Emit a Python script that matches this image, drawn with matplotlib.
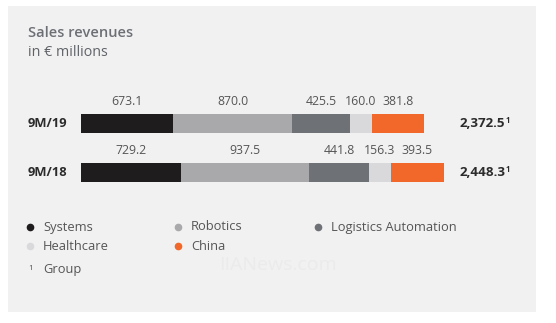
import matplotlib
matplotlib.use("Agg")
import matplotlib.pyplot as plt
from matplotlib.patches import Rectangle
from matplotlib.lines import Line2D
import matplotlib.transforms as mtransforms

plt.rcParams['font.family'] = ['Open Sans', 'DejaVu Sans']

# data
periods = ['9M/19', '9M/18']
segments = ['Systems', 'Robotics', 'Logistics Automation', 'Healthcare', 'China']
values_19 = [673.1, 870.0, 425.5, 160.0, 381.8]
values_18 = [729.2, 937.5, 441.8, 156.3, 393.5]
totals = ['2,372.5', '2,448.3']
colors = ['#1e1c1d', '#a9a9ab', '#6e7176', '#d9d9dc', '#f2672a']

W, H = 556, 323
fig = plt.figure(figsize=(W / 100, H / 100), dpi=100)
fig.patch.set_facecolor('white')

# grey panel
fig.patches.append(Rectangle((8 / W, 1 - 312 / H), (536 - 8) / W, (312 - 6) / H,
                             transform=fig.transFigure, facecolor='#f2f1f2',
                             edgecolor='none', zorder=-5))

fig.text(28 / W, 1 - 33 / H, 'Sales revenues', fontsize=10.5, fontweight='semibold',
         color='#6c7075', va='center', ha='left')
fig.text(28 / W, 1 - 52 / H, 'in € millions', fontsize=10.3, color='#5f6367',
         va='center', ha='left')

# bar axes: 0 at x=81px, 0.1367 px per unit
scale = 0.1367
ax = fig.add_axes([81 / W, 1 - 196 / H, (536 - 81) / W, 96 / H], zorder=2)
ax.set_xlim(0, (536 - 81) / scale)
ax.set_ylim(1.48, -0.48)
ax.axis('off')

rows = [values_19, values_18]
for i, vals in enumerate(rows):
    left = 0
    for v, c in zip(vals, colors):
        ax.barh(i, v, left=left, height=0.39, color=c, edgecolor='none')
        ax.text(left + v / 2, i - 0.45, f'{v:.1f}', ha='center', va='center',
                fontsize=8.8, color='#555555')
        left += v

trans = mtransforms.blended_transform_factory(fig.transFigure, ax.transData)
for i, (p, t) in enumerate(zip(periods, totals)):
    ax.text(28 / W, i, p, transform=trans, ha='left', va='center',
            fontsize=9.3, fontweight='bold', color='#2b2b2b')
    ax.text(460 / W, i, t, transform=trans, ha='left', va='center',
            fontsize=9.6, fontweight='bold', color='#2b2b2b')
    ax.text(506 / W, i - 0.06, '1', transform=trans, ha='left', va='center',
            fontsize=5.5, fontweight='bold', color='#2b2b2b')

# legend
leg_pos = [(30, 227), (178, 227), (318, 227), (30, 246), (178, 246)]
for (x, y), name, c in zip(leg_pos, segments, colors):
    fig.add_artist(Line2D([x / W], [1 - y / H], marker='o', markersize=4.5,
                          color=c, linestyle='none', transform=fig.transFigure))
    fig.text((x + 13) / W, 1 - y / H, name, fontsize=9.3, color='#555555',
             va='center', ha='left')
fig.text(28 / W, 1 - 268 / H, '1', fontsize=5.5, color='#444444', va='center', ha='left')
fig.text(43 / W, 1 - 270 / H, 'Group', fontsize=9.3, color='#555555', va='center', ha='left')

# faint watermark
fig.text(278 / W, 1 - 265 / H, 'IIANews.com', fontsize=14, color='#ecebec',
         va='center', ha='center')

fig.savefig('out.png', dpi=100)
